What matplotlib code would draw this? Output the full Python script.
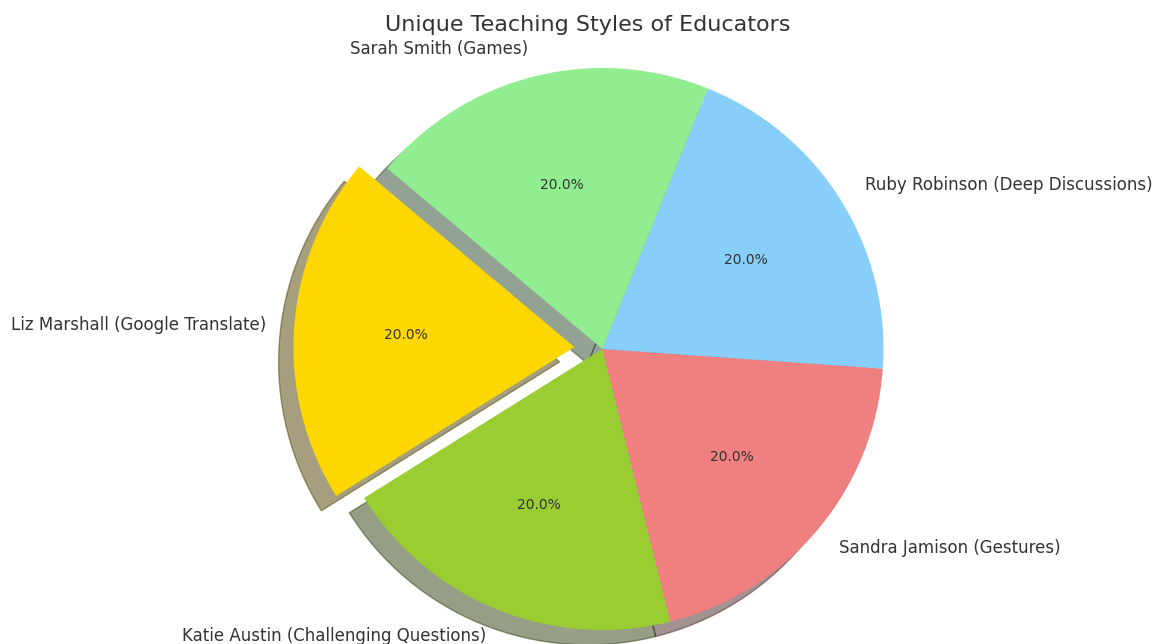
import matplotlib.pyplot as plt

# Teaching styles, one equal share per educator
labels = ['Liz Marshall (Google Translate)', 'Katie Austin (Challenging Questions)',
          'Sandra Jamison (Gestures)', 'Ruby Robinson (Deep Discussions)',
          'Sarah Smith (Games)']
sizes = [20, 20, 20, 20, 20]
colors = ['gold', 'yellowgreen', 'lightcoral', 'lightskyblue', 'lightgreen']
explode = (0.1, 0, 0, 0, 0)

text_color = '#333333'

fig = plt.figure(figsize=(11.56, 6.44), dpi=100)
ax = fig.add_axes([0, 0, 1, 1])

wedges, texts, autotexts = ax.pie(
    sizes, explode=explode, labels=labels, colors=colors,
    autopct='%1.1f%%', startangle=140,
    shadow={'ox': -0.038, 'oy': -0.038},
    textprops={'fontsize': 12, 'color': text_color},
)
for t in autotexts:
    t.set_fontsize(10)

# keep one data unit equal in x and y, pie centred left of middle
scale = 281.0
cx, cy = 602.5, 644.0 - 349.0
ax.set_xlim(-cx / scale, (1156 - cx) / scale)
ax.set_ylim(-cy / scale, (644 - cy) / scale)
ax.set_aspect('auto')
ax.axis('off')

fig.text(588 / 1156, 1 - 25 / 644, 'Unique Teaching Styles of Educators',
         ha='center', va='center', fontsize=16, color=text_color)

plt.savefig('out.png', dpi=100)
